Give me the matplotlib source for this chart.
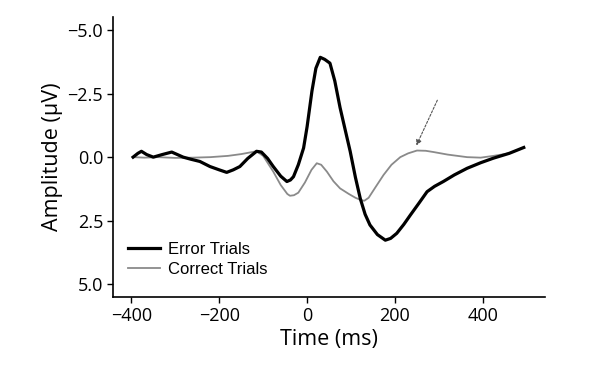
import matplotlib.pyplot as plt

# ERP waveforms
time_err = [-396, -385, -377, -365, -350, -330, -308, -295, -282, -265,
            -244, -221, -200, -183, -168, -153, -135, -115, -104, -90,
            -77, -60, -46, -38, -31, -20, -8, 0, 11, 20,
            30, 40, 52, 63, 75, 87, 98, 110, 121, 132,
            143, 160, 178, 190, 204, 220, 235, 255, 273, 290,
            310, 335, 364, 395, 424, 460, 493]
amp_err = [0, -0.15, -0.23, -0.1, 0, -0.1, -0.2, -0.1, 0, 0.08,
           0.17, 0.37, 0.5, 0.6, 0.5, 0.37, 0.05, -0.23, -0.2, 0.05,
           0.37, 0.75, 0.96, 0.9, 0.77, 0.3, -0.36, -1.2, -2.6, -3.5,
           -3.93, -3.85, -3.7, -3.0, -1.95, -1.05, -0.23, 0.8, 1.63, 2.25,
           2.67, 3.05, 3.27, 3.2, 3.0, 2.65, 2.28, 1.8, 1.36, 1.15,
           0.96, 0.7, 0.44, 0.22, 0.04, -0.15, -0.38]

time_cor = [-396, -370, -340, -300, -260, -220, -180, -150, -125, -115,
            -100, -77, -60, -45, -39, -30, -20, -5, 10, 22,
            32, 45, 60, 75, 95, 110, 121, 130, 140, 155,
            174, 192, 212, 230, 250, 270, 288, 320, 364, 395,
            424, 460, 493]
amp_cor = [0, 0.02, 0, 0.03, 0.02, 0, -0.05, -0.12, -0.2, -0.23,
           -0.05, 0.57, 1.1, 1.45, 1.52, 1.5, 1.4, 1.0, 0.5, 0.24,
           0.3, 0.57, 0.95, 1.23, 1.45, 1.6, 1.68, 1.72, 1.6, 1.2,
           0.7, 0.3, 0, -0.15, -0.26, -0.25, -0.2, -0.1, 0, 0.02,
           -0.05, -0.15, -0.38]

x_ticks = [-400, -200, 0, 200, 400]
y_ticks = [-5.0, -2.5, 0.0, 2.5, 5.0]

fig = plt.figure(figsize=(5.94, 3.88), dpi=100)
ax = fig.add_axes([0.19, 0.235, 0.728, 0.72])

ax.plot(time_cor, amp_cor, color="#8a8a8a", lw=1.3, label="Correct Trials")
ax.plot(time_err, amp_err, color="black", lw=2.3, label="Error Trials")

# arrow pointing at the correct-trial positivity
ax.annotate("", xy=(246, -0.36), xytext=(299, -2.34),
            arrowprops=dict(arrowstyle="-|>", color="#555555", lw=0.8,
                            linestyle=(0, (2, 1.5)), mutation_scale=8))

ax.set_xlim(-442, 542)
ax.set_ylim(5.5, -5.5)
ax.set_xticks(x_ticks)
ax.set_yticks(y_ticks)
ax.set_xticklabels([f"{t:d}".replace("-", "\u2212") for t in x_ticks],
                   fontfamily="Open Sans", fontsize=13)
ax.set_yticklabels([f"{v:.1f}".replace("-", "\u2212") for v in y_ticks],
                   fontfamily="Open Sans", fontsize=13)
ax.tick_params(direction="out", length=4, width=1, pad=3)

for s in ["top", "right"]:
    ax.spines[s].set_visible(False)
for s in ["left", "bottom"]:
    ax.spines[s].set_linewidth(1.2)

ax.set_xlabel("Time (ms)", fontfamily="Open Sans", fontsize=15.5, labelpad=3)
ax.set_ylabel("Amplitude (\u00b5V)", fontfamily="Open Sans", fontsize=15.5, labelpad=3)

handles, labels = ax.get_legend_handles_labels()
ax.legend(handles[::-1], labels[::-1], loc="lower left", bbox_to_anchor=(0.035, 0.07),
          frameon=False, handlelength=1.9, handletextpad=0.5, labelspacing=0.3,
          borderpad=0, borderaxespad=0,
          prop={"family": "Liberation Sans", "size": 12})

fig.savefig("out.png", dpi=100)
